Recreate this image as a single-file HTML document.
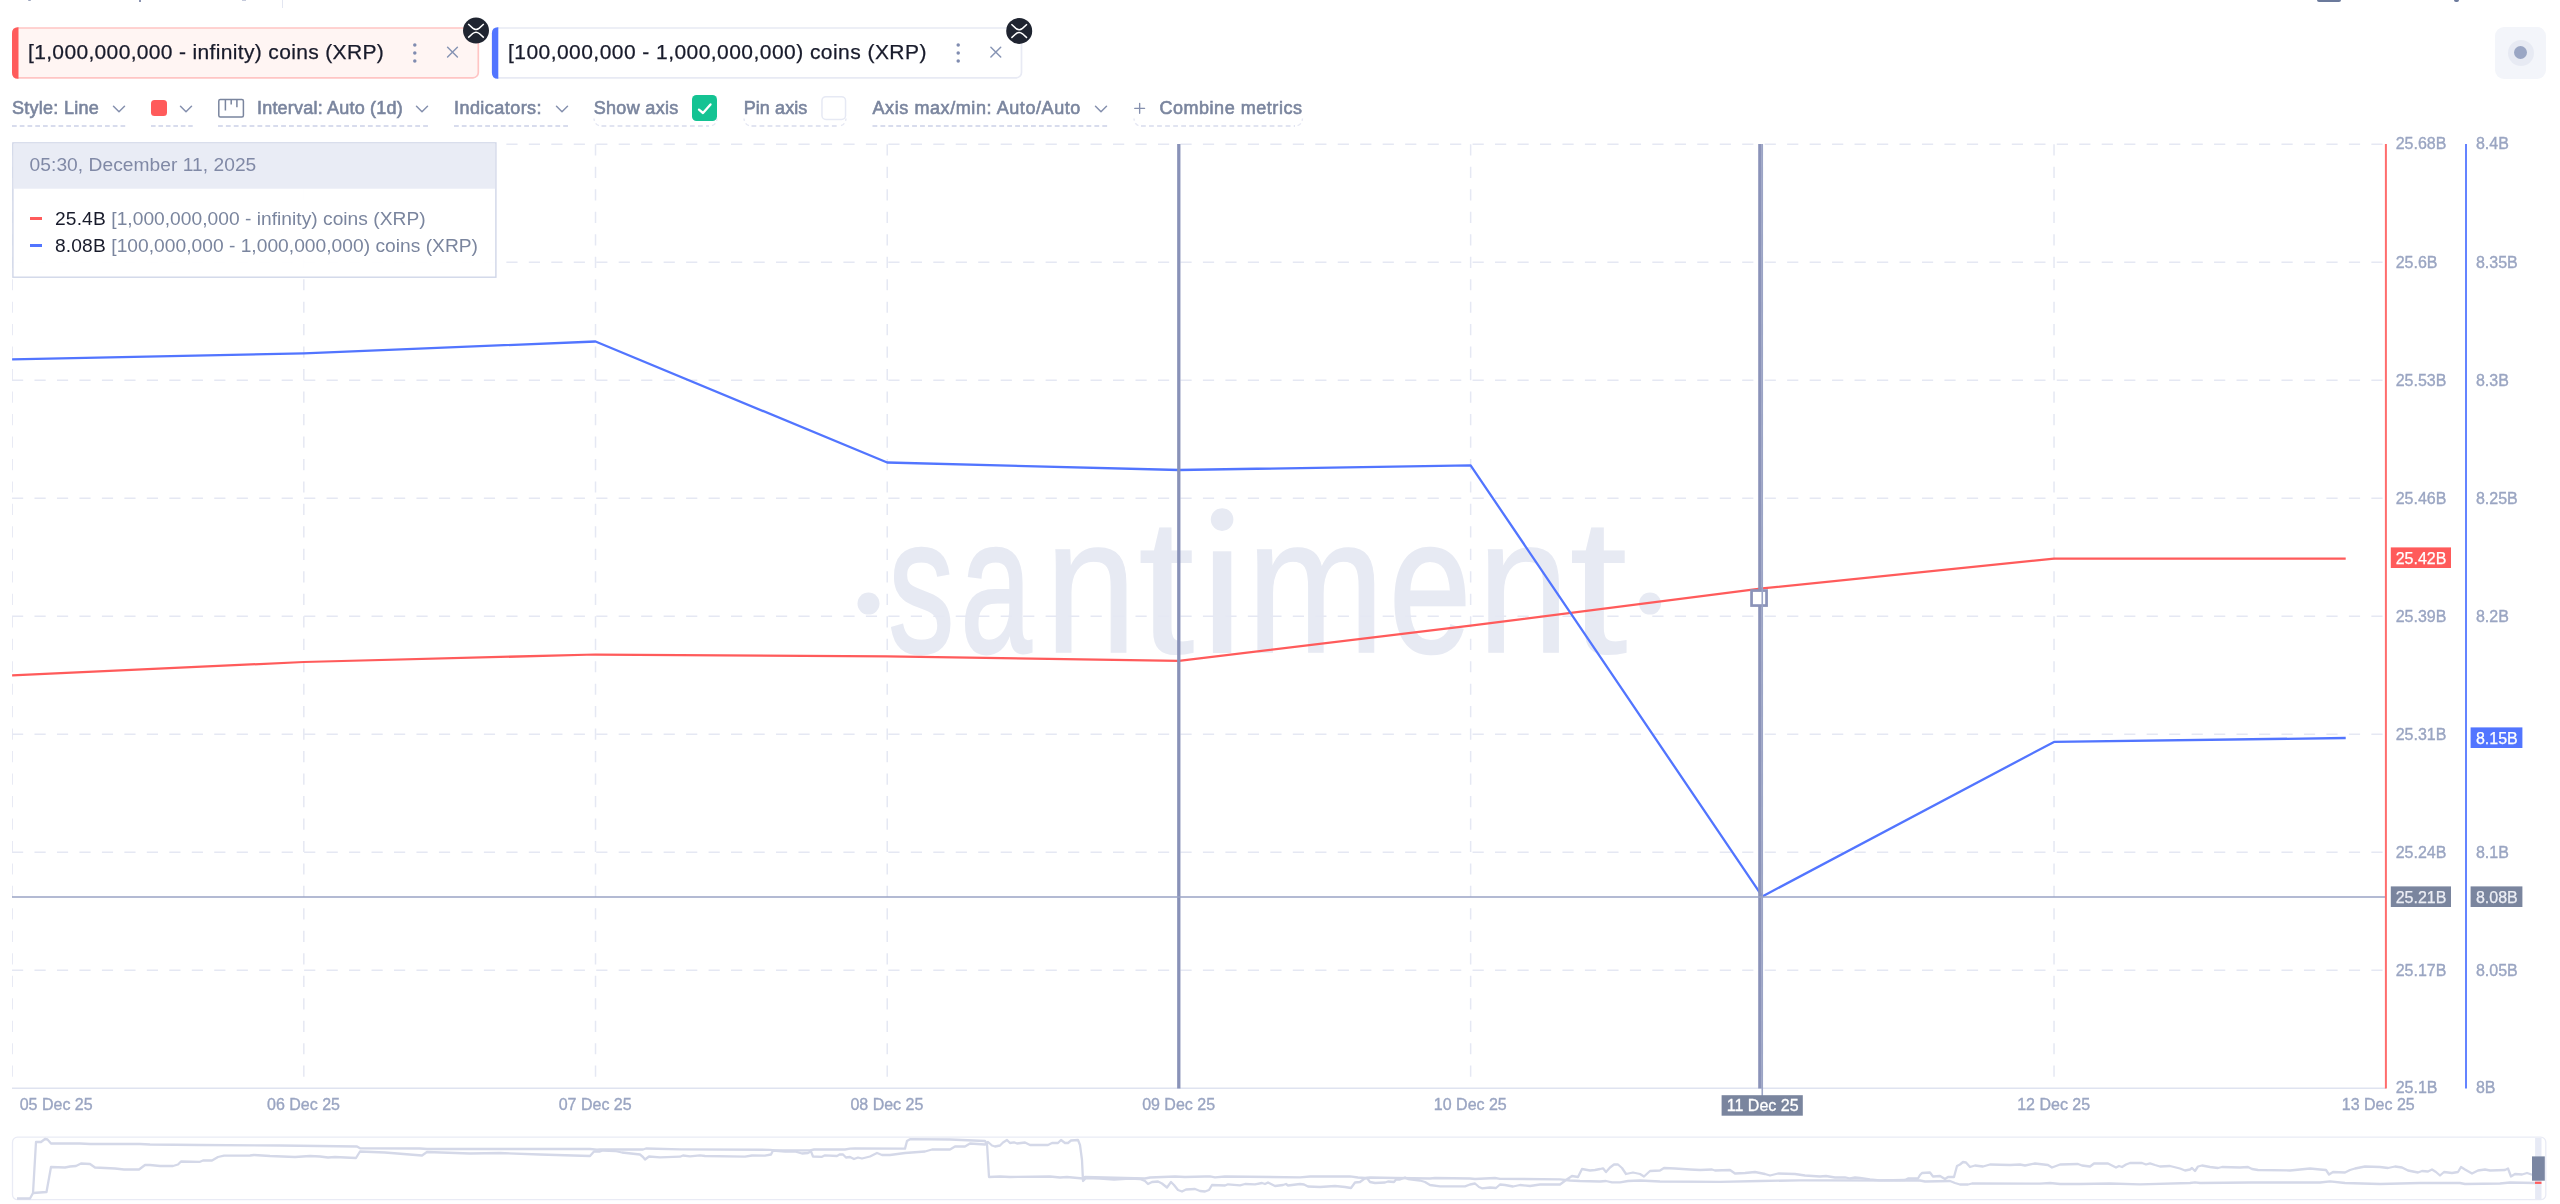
<!DOCTYPE html>
<html><head><meta charset="utf-8"><title>chart</title>
<style>
html,body{margin:0;padding:0;background:#fff;}
body{width:2560px;height:1204px;position:relative;overflow:hidden;will-change:transform;font-family:"Liberation Sans",sans-serif;}
.abs{position:absolute;}
.ct{position:absolute;top:25.9px;height:49.5px;line-height:51px;font-size:21px;color:#181b2b;white-space:pre;-webkit-text-stroke:0.25px #181b2b;}
.ctl{position:absolute;top:94px;height:28px;line-height:28px;font-size:18px;color:#7a859e;white-space:pre;-webkit-text-stroke:0.6px #7a859e;}
.tt{position:absolute;font-size:19.2px;white-space:pre;line-height:22px;height:22px;}
</style></head>
<body>
<!-- remnants of header row above -->
<div class="abs" style="left:27.5px;top:0;width:3.5px;height:1.2px;background:#9aa3bd;border-radius:0 0 2px 2px"></div>
<div class="abs" style="left:139.3px;top:0;width:1.8px;height:2.2px;background:#8a93b0"></div>
<div class="abs" style="left:242px;top:0;width:3.5px;height:0.8px;background:#c5cadb"></div>
<div class="abs" style="left:281.5px;top:0;width:1.5px;height:7.5px;background:#e3e6f1"></div>
<div class="abs" style="left:2316.5px;top:0;width:24.5px;height:1.6px;background:#6b7a9c;border-radius:0 0 2px 2px"></div>
<div class="abs" style="left:2454px;top:0;width:5px;height:2px;background:#6b7a9c;border-radius:0 0 2px 2px"></div>

<!-- chips -->
<svg class="abs" style="left:0;top:0" width="1100" height="90" viewBox="0 0 1100 90">
  <rect x="12.85" y="28" width="465.45" height="49.8" rx="5.3" fill="#fff5f3" stroke="#ffc5c4" stroke-width="1.7"/>
  <path d="M18.5 27.15 H18 Q12 27.15 12 33.15 V72.7 Q12 78.7 18 78.7 H18.5 Z" fill="#ff5b5b"/>
  <rect x="492.75" y="28" width="528.75" height="49.8" rx="5.3" fill="#fff" stroke="#e8eaf4" stroke-width="1.7"/>
  <path d="M498.3 27.15 H497.9 Q491.9 27.15 491.9 33.15 V72.7 Q491.9 78.7 497.9 78.7 H498.3 Z" fill="#5275ff"/>
</svg>
<span class="ct" style="left:28px;letter-spacing:0.34px">[1,000,000,000 - infinity) coins (XRP)</span>
<span class="ct" style="left:508px;letter-spacing:0.45px">[100,000,000 - 1,000,000,000) coins (XRP)</span>
<svg class="abs" style="left:0;top:0" width="1100" height="90" viewBox="0 0 1100 90">
  <g fill="#808cb0"><circle cx="414.8" cy="44.9" r="1.75"/><circle cx="414.8" cy="52.9" r="1.75"/><circle cx="414.8" cy="61" r="1.75"/>
  <circle cx="958.2" cy="44.9" r="1.75"/><circle cx="958.2" cy="52.9" r="1.75"/><circle cx="958.2" cy="61" r="1.75"/></g>
  <g stroke="#8794b4" stroke-width="1.5" stroke-linecap="round" fill="none">
   <path d="M447.6 47.3 L457.4 57 M457.4 47.3 L447.6 57"/>
   <path d="M990.9 47.3 L1000.7 57 M1000.7 47.3 L990.9 57"/>
  </g>
  <g>
   <circle cx="476" cy="30.6" r="13" fill="#1f2430"/>
   <path d="M468.2 24 L472.7 28.1 Q476 30.8 479.3 28.1 L483.8 24 M468.2 37.6 L472.7 33.5 Q476 30.8 479.3 33.5 L483.8 37.6" stroke="#fff" stroke-width="1.5" fill="none"/>
   <circle cx="1019.2" cy="30.9" r="13" fill="#1f2430"/>
   <path d="M1011.4 24.3 L1015.9 28.4 Q1019.2 31.1 1022.5 28.4 L1027 24.3 M1011.4 37.9 L1015.9 33.8 Q1019.2 31.1 1022.5 33.8 L1027 37.9" stroke="#fff" stroke-width="1.5" fill="none"/>
  </g>
</svg>

<!-- top-right button -->
<div class="abs" style="left:2495px;top:27px;width:51px;height:52px;border-radius:9px;background:#f3f5fa"></div>
<div class="abs" style="left:2507.6px;top:39.9px;width:26px;height:26px;border-radius:50%;background:#e7eaf3"></div>
<div class="abs" style="left:2514.1px;top:46.4px;width:13px;height:13px;border-radius:50%;background:#9aa6c4"></div>

<!-- controls -->
<span class="ctl" style="left:12px;letter-spacing:0.27px">Style: Line</span>
<span class="ctl" style="left:257px;letter-spacing:0.2px">Interval: Auto (1d)</span>
<span class="ctl" style="left:454px;letter-spacing:0.45px">Indicators:</span>
<span class="ctl" style="left:593.7px;letter-spacing:0.33px">Show axis</span>
<span class="ctl" style="left:743.7px;letter-spacing:0.09px">Pin axis</span>
<span class="ctl" style="left:872.5px;letter-spacing:0.58px">Axis max/min: Auto/Auto</span>
<span class="ctl" style="left:1159.4px;letter-spacing:0.54px">Combine metrics</span>
<svg class="abs" style="left:0;top:110px" width="1320" height="20" viewBox="0 110 1320 20">
 <g stroke="#d8dced" stroke-width="2.2" fill="none">
  <path d="M12 126 H125.2" stroke-dasharray="4.7 3.053"/><path d="M151 126 H192.7" stroke-dasharray="4.6 2.85"/><path d="M218 126 H428" stroke-dasharray="4.8 3.09"/><path d="M454 126 H568" stroke-dasharray="4.75 3.05"/><path d="M872.5 126 H1107.2" stroke-dasharray="4.8 3.125"/>
 </g>
 <g stroke="#d8dced" stroke-width="1.7" stroke-dasharray="4.8 3.24" fill="none">
  <path d="M601.5 126 H709"/><path d="M751.5 126 H838"/><path d="M1141 126 H1295"/>
 </g>
 <g stroke="#e6e8f3" stroke-width="1.4" fill="none" stroke-dasharray="4 3">
  <path d="M599 125.6 Q594.6 124.6 594 118.5"/><path d="M712 125.6 Q716.4 124.6 717 118.5"/>
  <path d="M749 125.6 Q744.6 124.6 744 118.5"/><path d="M841 125.6 Q845.4 124.6 846 118.5"/>
  <path d="M1138.5 125.6 Q1134.6 124.6 1134 118.5"/><path d="M1297.5 125.6 Q1301.9 124.6 1302.5 118.5"/>
 </g>
</svg>
<div class="abs" style="left:151px;top:100.2px;width:16px;height:16px;border-radius:3.5px;background:#ff5b5b"></div>
<div class="abs" style="left:691.8px;top:95.3px;width:25.7px;height:25.9px;border-radius:4.5px;background:#14c393"></div>
<svg class="abs" style="left:0;top:85px" width="1320" height="50" viewBox="0 85 1320 50">
 <g stroke="#8590ae" stroke-width="1.5" fill="none" stroke-linecap="round" stroke-linejoin="round">
  <path d="M113.5 106.2 L119 111.7 L124.5 106.2"/>
  <path d="M180.5 106.2 L186 111.7 L191.5 106.2"/>
  <path d="M416.5 106.2 L422 111.7 L427.5 106.2"/>
  <path d="M556.5 106.2 L562 111.7 L567.5 106.2"/>
  <path d="M1095.5 106.2 L1101 111.7 L1106.5 106.2"/>
  <path d="M1134.7 108.3 H1144.6 M1139.65 103.4 V113.3" stroke-width="1.35"/>
 </g>
 <g stroke="#7a859e" stroke-width="1.5" fill="none">
  <rect x="218.8" y="99.5" width="24.6" height="17.5" rx="1.5"/>
  <path d="M225.4 99.5 V110.4 M231.2 99.5 V104.4 M236.9 99.5 V107.2"/>
 </g>
 <rect x="821.95" y="96.65" width="23.6" height="22.8" rx="4" stroke="#e6e9f4" stroke-width="1.5" fill="#fff"/>
 <path d="M699 109.6 L703 113 L710.5 104.4" stroke="#fff" stroke-width="2.3" fill="none" stroke-linecap="round" stroke-linejoin="round"/>
</svg>
<svg id="chart" width="2560" height="1204" viewBox="0 0 2560 1204" style="position:absolute;left:0;top:0" font-family="Liberation Sans, sans-serif">
<g fill="#e7eaf3" stroke="#e7eaf3" stroke-width="0"><circle cx="868.5" cy="603.6" r="11"/><circle cx="1650" cy="603.6" r="11"/><circle cx="1222.1" cy="519.6" r="11.3"/><rect x="1212.9" y="551.3" width="18.4" height="101.7"/>
<text font-size="204" transform="translate(888.4,652.3) scale(0.644,0.945)" stroke-width="2.4" vector-effect="non-scaling-stroke">s</text>
<text font-size="204" transform="translate(960.5,652.3) scale(0.626,0.945)" stroke-width="2.4" vector-effect="non-scaling-stroke">a</text>
<text font-size="204" transform="translate(1045.1,652.3) scale(0.807,0.945)" stroke-width="1.2" vector-effect="non-scaling-stroke">n</text>
<text font-size="204" transform="translate(1137.6,653.3) scale(1.015,0.955)" stroke-width="0" vector-effect="non-scaling-stroke">t</text>
<text font-size="204" transform="translate(1246.6,652.3) scale(0.813,0.945)" stroke-width="1.2" vector-effect="non-scaling-stroke">m</text>
<text font-size="204" transform="translate(1389.2,652.3) scale(0.720,0.945)" stroke-width="2.4" vector-effect="non-scaling-stroke">e</text>
<text font-size="204" transform="translate(1477.5,652.3) scale(0.807,0.945)" stroke-width="1.2" vector-effect="non-scaling-stroke">n</text>
<text font-size="204" transform="translate(1568.7,653.3) scale(1.047,0.955)" stroke-width="0" vector-effect="non-scaling-stroke">t</text>
</g>
<clipPath id="plot"><rect x="12" y="140" width="2380" height="960"/></clipPath><g clip-path="url(#plot)">
<line x1="12" x2="2385" y1="144.35" y2="144.35" stroke="#e5e8f3" stroke-width="1.5" stroke-dasharray="11.2 11.27"/>
<line x1="12" x2="2385" y1="262.35" y2="262.35" stroke="#e5e8f3" stroke-width="1.5" stroke-dasharray="11.2 11.27"/>
<line x1="12" x2="2385" y1="380.35" y2="380.35" stroke="#e5e8f3" stroke-width="1.5" stroke-dasharray="11.2 11.27"/>
<line x1="12" x2="2385" y1="498.35" y2="498.35" stroke="#e5e8f3" stroke-width="1.5" stroke-dasharray="11.2 11.27"/>
<line x1="12" x2="2385" y1="616.35" y2="616.35" stroke="#e5e8f3" stroke-width="1.5" stroke-dasharray="11.2 11.27"/>
<line x1="12" x2="2385" y1="734.35" y2="734.35" stroke="#e5e8f3" stroke-width="1.5" stroke-dasharray="11.2 11.27"/>
<line x1="12" x2="2385" y1="852.35" y2="852.35" stroke="#e5e8f3" stroke-width="1.5" stroke-dasharray="11.2 11.27"/>
<line x1="12" x2="2385" y1="970.35" y2="970.35" stroke="#e5e8f3" stroke-width="1.5" stroke-dasharray="11.2 11.27"/>
<line x1="12.13" x2="12.13" y1="144.35" y2="1088" stroke="#e5e8f3" stroke-width="1.5" stroke-dasharray="11.2 11.27"/>
<line x1="303.83" x2="303.83" y1="144.35" y2="1088" stroke="#e5e8f3" stroke-width="1.5" stroke-dasharray="11.2 11.27"/>
<line x1="595.53" x2="595.53" y1="144.35" y2="1088" stroke="#e5e8f3" stroke-width="1.5" stroke-dasharray="11.2 11.27"/>
<line x1="887.23" x2="887.23" y1="144.35" y2="1088" stroke="#e5e8f3" stroke-width="1.5" stroke-dasharray="11.2 11.27"/>
<line x1="1178.93" x2="1178.93" y1="144.35" y2="1088" stroke="#e5e8f3" stroke-width="1.5" stroke-dasharray="11.2 11.27"/>
<line x1="1470.63" x2="1470.63" y1="144.35" y2="1088" stroke="#e5e8f3" stroke-width="1.5" stroke-dasharray="11.2 11.27"/>
<line x1="1762.33" x2="1762.33" y1="144.35" y2="1088" stroke="#e5e8f3" stroke-width="1.5" stroke-dasharray="11.2 11.27"/>
<line x1="2054.03" x2="2054.03" y1="144.35" y2="1088" stroke="#e5e8f3" stroke-width="1.5" stroke-dasharray="11.2 11.27"/>
</g>
<line x1="12" x2="2386" y1="1088.3" y2="1088.3" stroke="#dfe3f0" stroke-width="1.5"/>
<polyline points="12.1,675.3 303.8,662.0 595.5,654.5 887.2,656.4 1178.9,660.8 1470.6,625.7 1762.3,588.4 2054.0,558.7 2345.7,558.7" fill="none" stroke="#ff5b5b" stroke-width="2.25" stroke-linejoin="round"/>
<polyline points="12.1,359.3 303.8,353.3 595.5,341.5 887.2,462.5 1178.9,470.0 1470.6,465.3 1762.3,896.4 2054.0,741.9 2345.7,738.0" fill="none" stroke="#5275ff" stroke-width="2.3" stroke-linejoin="round"/>
<line x1="2385.9" x2="2385.9" y1="144" y2="1088.5" stroke="#ff6d6d" stroke-width="2"/>
<line x1="2466" x2="2466" y1="144" y2="1088.5" stroke="#6483ff" stroke-width="2"/>
<line x1="1178.8" x2="1178.8" y1="144" y2="1088.6" stroke="#8992b8" stroke-width="3.3"/>
<line x1="1759.95" x2="1759.95" y1="144" y2="1088.6" stroke="#8b93b9" stroke-width="3.5"/>
<line x1="12" x2="2385" y1="896.9" y2="896.9" stroke="#9aa3c4" stroke-width="1.5"/>
<rect x="1751.55" y="590.55" width="15" height="15" fill="#fff" stroke="#8b93b9" stroke-width="2.7"/>
<line x1="1762.25" x2="1762.25" y1="144" y2="1096" stroke="#9ba4c5" stroke-width="1.6"/>
<text x="2395.7" y="149.4" font-size="16" fill="#9aa5c2" stroke="#9aa5c2" stroke-width="0.35">25.68B</text>
<text x="2475.9" y="149.4" font-size="16" fill="#9aa5c2" stroke="#9aa5c2" stroke-width="0.35">8.4B</text>
<text x="2395.7" y="267.5" font-size="16" fill="#9aa5c2" stroke="#9aa5c2" stroke-width="0.35">25.6B</text>
<text x="2475.9" y="267.5" font-size="16" fill="#9aa5c2" stroke="#9aa5c2" stroke-width="0.35">8.35B</text>
<text x="2395.7" y="385.5" font-size="16" fill="#9aa5c2" stroke="#9aa5c2" stroke-width="0.35">25.53B</text>
<text x="2475.9" y="385.5" font-size="16" fill="#9aa5c2" stroke="#9aa5c2" stroke-width="0.35">8.3B</text>
<text x="2395.7" y="503.5" font-size="16" fill="#9aa5c2" stroke="#9aa5c2" stroke-width="0.35">25.46B</text>
<text x="2475.9" y="503.5" font-size="16" fill="#9aa5c2" stroke="#9aa5c2" stroke-width="0.35">8.25B</text>
<text x="2395.7" y="621.5" font-size="16" fill="#9aa5c2" stroke="#9aa5c2" stroke-width="0.35">25.39B</text>
<text x="2475.9" y="621.5" font-size="16" fill="#9aa5c2" stroke="#9aa5c2" stroke-width="0.35">8.2B</text>
<text x="2395.7" y="739.5" font-size="16" fill="#9aa5c2" stroke="#9aa5c2" stroke-width="0.35">25.31B</text>
<text x="2395.7" y="857.5" font-size="16" fill="#9aa5c2" stroke="#9aa5c2" stroke-width="0.35">25.24B</text>
<text x="2475.9" y="857.5" font-size="16" fill="#9aa5c2" stroke="#9aa5c2" stroke-width="0.35">8.1B</text>
<text x="2395.7" y="975.5" font-size="16" fill="#9aa5c2" stroke="#9aa5c2" stroke-width="0.35">25.17B</text>
<text x="2475.9" y="975.5" font-size="16" fill="#9aa5c2" stroke="#9aa5c2" stroke-width="0.35">8.05B</text>
<text x="2395.7" y="1093.4" font-size="16" fill="#9aa5c2" stroke="#9aa5c2" stroke-width="0.35">25.1B</text>
<text x="2475.9" y="1093.4" font-size="16" fill="#9aa5c2" stroke="#9aa5c2" stroke-width="0.35">8B</text>
<rect x="2390.8" y="547.4" width="60.2" height="20.6" fill="#ff5b5b"/><text x="2395.7" y="563.5" font-size="16" fill="#fff" stroke="#fff" stroke-width="0.25">25.42B</text>
<rect x="2470.6" y="727.4" width="51.8" height="20.6" fill="#5275ff"/><text x="2475.9" y="743.5" font-size="16" fill="#fff" stroke="#fff" stroke-width="0.25">8.15B</text>
<rect x="2390.8" y="886.4" width="60.2" height="20.6" fill="#7a859e"/><text x="2395.7" y="902.5" font-size="16" fill="#eceef5" stroke="#eceef5" stroke-width="0.25">25.21B</text>
<rect x="2470.6" y="886.4" width="51.8" height="20.6" fill="#7a859e"/><text x="2475.9" y="902.5" font-size="16" fill="#eceef5" stroke="#eceef5" stroke-width="0.25">8.08B</text>
<text x="19.7" y="1109.5" font-size="16" fill="#9aa5c2" stroke="#9aa5c2" stroke-width="0.35">05 Dec 25</text>
<text x="303.5" y="1109.5" font-size="16" fill="#9aa5c2" stroke="#9aa5c2" stroke-width="0.35" text-anchor="middle">06 Dec 25</text>
<text x="595.2" y="1109.5" font-size="16" fill="#9aa5c2" stroke="#9aa5c2" stroke-width="0.35" text-anchor="middle">07 Dec 25</text>
<text x="886.9" y="1109.5" font-size="16" fill="#9aa5c2" stroke="#9aa5c2" stroke-width="0.35" text-anchor="middle">08 Dec 25</text>
<text x="1178.6" y="1109.5" font-size="16" fill="#9aa5c2" stroke="#9aa5c2" stroke-width="0.35" text-anchor="middle">09 Dec 25</text>
<text x="1470.3" y="1109.5" font-size="16" fill="#9aa5c2" stroke="#9aa5c2" stroke-width="0.35" text-anchor="middle">10 Dec 25</text>
<rect x="1721.6" y="1095.2" width="81.2" height="20.5" fill="#7a859e"/><text x="1762.7" y="1111" font-size="16" fill="#fff" stroke="#fff" stroke-width="0.3" text-anchor="middle">11 Dec 25</text>
<text x="2053.7" y="1109.5" font-size="16" fill="#9aa5c2" stroke="#9aa5c2" stroke-width="0.35" text-anchor="middle">12 Dec 25</text>
<text x="2341.8" y="1109.5" font-size="16" fill="#9aa5c2" stroke="#9aa5c2" stroke-width="0.35">13 Dec 25</text>
<rect x="12.5" y="1137.2" width="2533.3" height="62.5" rx="5" fill="#fff" stroke="#e9ebf5" stroke-width="1.3"/>
<rect x="2535.1" y="1138" width="6.4" height="61" fill="#e7eaf5"/>
<polyline points="17.0,1198.5 30.0,1198.5 33.0,1193.0 36.0,1142.0 41.0,1142.0 45.0,1139.0 47.5,1139.5 51.0,1143.5 80.0,1143.5 90.0,1144.0 140.0,1144.0 150.0,1144.5 200.0,1145.0 280.0,1145.5 357.0,1146.5 360.0,1148.3 420.0,1148.5 427.0,1149.0 590.0,1149.0 597.0,1149.6 600.0,1149.5 643.0,1149.5 646.0,1148.5 680.0,1149.3 770.0,1149.8 775.0,1150.3 810.0,1150.3 814.0,1149.5 845.0,1149.5 850.0,1148.7 855.0,1148.3 905.0,1148.6 907.0,1141.0 910.0,1139.2 950.0,1139.5 985.0,1141.0 987.0,1144.0 989.0,1177.0 1000.0,1176.5 1010.0,1177.0 1050.0,1176.5 1060.0,1177.5 1067.0,1177.0 1083.0,1178.5 1085.0,1177.0 1145.0,1178.5 1150.0,1177.5 1175.0,1176.5 1185.0,1177.0 1205.0,1176.5 1210.0,1176.3 1215.0,1177.3 1225.0,1176.5 1300.0,1177.3 1310.0,1176.5 1350.0,1176.3 1358.0,1177.5 1365.0,1178.0 1370.0,1177.5 1395.0,1178.0 1430.0,1178.5 1435.0,1178.0 1470.0,1178.5 1475.0,1179.0 1495.0,1178.0 1500.0,1178.8 1560.0,1179.3 1570.0,1180.5 1580.0,1181.0 1600.0,1181.5 1606.0,1181.0 1612.0,1182.3 1620.0,1182.3 1628.0,1181.0 1640.0,1180.5 1660.0,1181.5 1720.0,1181.8 1760.0,1181.0 1800.0,1180.4 1920.0,1180.5 1925.0,1181.5 1950.0,1181.0 1955.0,1183.0 1960.0,1184.5 1968.0,1184.5 1972.0,1183.5 2040.0,1183.7 2050.0,1183.0 2060.0,1184.0 2080.0,1184.0 2110.0,1183.5 2140.0,1184.3 2190.0,1183.0 2195.0,1182.3 2200.0,1183.0 2250.0,1182.5 2320.0,1182.5 2330.0,1181.3 2345.0,1183.0 2380.0,1184.0 2420.0,1183.0 2460.0,1183.0 2465.0,1184.0 2500.0,1183.5 2510.0,1182.5 2535.0,1183.0" fill="none" stroke="#d4d8e8" stroke-width="2.3" stroke-linejoin="round"/>
<polyline points="33.0,1193.0 46.5,1192.0 51.0,1167.0 65.0,1167.5 70.0,1166.5 76.0,1166.0 81.0,1163.5 90.0,1164.0 95.0,1167.5 115.0,1168.5 124.0,1169.5 139.0,1169.5 145.0,1165.0 150.0,1165.0 160.0,1166.0 173.0,1166.0 178.0,1164.5 181.0,1161.5 200.0,1161.8 203.0,1160.5 212.0,1160.5 218.0,1157.0 224.0,1155.7 250.0,1155.5 254.0,1155.0 270.0,1156.0 295.0,1157.0 310.0,1156.0 320.0,1156.5 328.0,1157.5 335.0,1157.0 356.0,1158.0 360.0,1151.5 385.0,1152.5 422.0,1155.5 427.0,1152.0 470.0,1153.5 500.0,1153.0 540.0,1154.5 590.0,1156.0 594.0,1151.5 600.0,1151.5 603.0,1150.5 615.0,1151.0 622.0,1152.5 640.0,1154.5 643.0,1157.0 645.0,1159.5 649.0,1156.5 660.0,1157.3 680.0,1156.7 683.0,1155.5 690.0,1156.3 700.0,1155.3 705.0,1156.0 745.0,1156.7 752.0,1155.5 765.0,1155.7 771.0,1154.5 773.0,1150.5 785.0,1151.5 795.0,1151.3 802.0,1153.5 808.0,1153.0 811.0,1151.3 813.0,1156.5 822.0,1156.8 825.0,1155.3 837.0,1156.0 840.0,1154.3 843.0,1154.5 846.0,1157.5 850.0,1157.0 854.0,1159.0 858.0,1157.5 862.0,1158.5 866.0,1157.5 870.0,1156.5 877.0,1153.0 882.0,1155.0 890.0,1155.0 905.0,1153.0 925.0,1151.5 932.0,1149.5 950.0,1149.5 955.0,1146.5 965.0,1146.5 970.0,1143.5 985.0,1144.5 988.0,1142.0 992.0,1145.5 995.0,1146.5 1000.0,1145.5 1003.0,1142.5 1007.0,1140.0 1010.0,1143.0 1014.0,1142.3 1017.0,1143.5 1025.0,1142.5 1030.0,1145.0 1048.0,1145.0 1052.0,1143.0 1058.0,1143.0 1061.0,1140.0 1065.0,1143.0 1068.0,1143.0 1071.0,1140.5 1078.0,1140.0 1080.0,1145.0 1082.0,1160.0 1083.0,1181.0 1086.0,1178.0 1100.0,1178.5 1114.0,1179.5 1130.0,1178.5 1140.0,1179.0 1145.0,1181.0 1148.0,1184.0 1152.0,1182.0 1158.0,1181.5 1162.0,1183.5 1167.0,1187.5 1171.0,1182.0 1174.0,1185.0 1178.0,1190.0 1182.0,1191.5 1186.0,1189.5 1195.0,1189.0 1200.0,1191.0 1205.0,1191.5 1209.0,1190.0 1212.0,1185.0 1225.0,1185.5 1228.0,1184.3 1240.0,1185.3 1245.0,1184.0 1255.0,1184.3 1262.0,1183.0 1265.0,1184.0 1268.0,1182.5 1272.0,1184.5 1275.0,1186.0 1283.0,1185.0 1286.0,1184.0 1288.0,1185.5 1300.0,1184.0 1304.0,1184.5 1308.0,1186.5 1320.0,1187.0 1335.0,1186.0 1345.0,1187.0 1351.0,1188.0 1355.0,1182.5 1360.0,1182.0 1364.0,1179.0 1367.0,1178.0 1370.0,1182.0 1375.0,1183.0 1385.0,1182.5 1388.0,1181.5 1394.0,1182.0 1396.0,1179.5 1400.0,1179.5 1405.0,1177.5 1408.0,1179.0 1420.0,1180.5 1425.0,1182.0 1430.0,1185.0 1440.0,1186.3 1465.0,1186.3 1470.0,1184.5 1475.0,1183.5 1479.0,1187.0 1482.0,1188.3 1490.0,1187.5 1496.0,1188.0 1500.0,1184.5 1505.0,1185.0 1513.0,1186.5 1520.0,1185.0 1530.0,1186.0 1540.0,1184.5 1550.0,1184.5 1560.0,1184.5 1566.0,1180.0 1572.0,1176.0 1578.0,1177.0 1582.0,1169.0 1590.0,1170.5 1595.0,1170.0 1600.0,1169.0 1603.0,1168.3 1606.0,1172.0 1610.0,1167.5 1614.0,1164.5 1618.0,1164.5 1622.0,1168.0 1626.0,1174.0 1633.0,1172.5 1640.0,1174.0 1644.0,1176.5 1650.0,1171.0 1660.0,1170.5 1664.0,1168.0 1675.0,1168.5 1690.0,1169.5 1700.0,1170.0 1712.0,1169.5 1715.0,1170.5 1730.0,1170.0 1735.0,1173.5 1745.0,1173.0 1755.0,1172.0 1765.0,1174.0 1770.0,1175.5 1778.0,1173.5 1795.0,1174.0 1805.0,1175.5 1820.0,1176.5 1826.0,1176.0 1835.0,1177.5 1845.0,1177.3 1850.0,1178.5 1855.0,1177.5 1860.0,1177.8 1870.0,1179.5 1880.0,1180.3 1905.0,1180.0 1908.0,1178.5 1918.0,1178.5 1920.0,1175.0 1922.0,1173.0 1930.0,1172.5 1933.0,1176.5 1940.0,1176.0 1945.0,1179.0 1948.0,1177.0 1954.0,1177.0 1957.0,1166.0 1960.0,1164.5 1963.0,1162.0 1966.0,1162.5 1970.0,1167.0 1975.0,1165.5 1983.0,1166.5 1990.0,1164.5 2010.0,1165.0 2020.0,1164.5 2025.0,1165.5 2035.0,1163.5 2048.0,1165.0 2052.0,1167.5 2060.0,1164.5 2078.0,1164.0 2082.0,1165.5 2090.0,1166.5 2094.0,1163.5 2108.0,1163.5 2112.0,1165.5 2116.0,1167.5 2119.0,1166.0 2122.0,1167.0 2126.0,1164.5 2130.0,1163.0 2142.0,1163.0 2146.0,1164.5 2150.0,1163.3 2155.0,1165.0 2160.0,1166.5 2170.0,1166.0 2180.0,1168.5 2185.0,1170.5 2190.0,1169.5 2192.0,1168.0 2195.0,1171.0 2198.0,1166.5 2202.0,1165.5 2210.0,1167.0 2218.0,1168.0 2222.0,1167.0 2240.0,1167.5 2248.0,1167.0 2252.0,1169.0 2258.0,1170.0 2290.0,1170.5 2300.0,1169.5 2310.0,1168.5 2320.0,1169.5 2326.0,1170.0 2329.0,1174.5 2333.0,1172.0 2345.0,1172.5 2350.0,1170.0 2355.0,1168.5 2365.0,1166.5 2380.0,1167.0 2388.0,1168.0 2395.0,1166.5 2402.0,1167.5 2408.0,1170.5 2418.0,1172.5 2422.0,1171.0 2428.0,1171.5 2432.0,1169.5 2436.0,1172.0 2440.0,1175.5 2444.0,1172.0 2452.0,1173.0 2458.0,1172.0 2461.0,1167.0 2465.0,1169.5 2472.0,1173.5 2478.0,1170.5 2485.0,1169.5 2490.0,1170.5 2505.0,1170.0 2508.0,1168.5 2511.0,1176.5 2515.0,1174.0 2522.0,1174.5 2527.0,1173.0 2533.0,1175.0" fill="none" stroke="#d4d8e8" stroke-width="2.3" stroke-linejoin="round"/>
<rect x="2532" y="1156.4" width="12.8" height="24.3" fill="#7a86a2"/>
<rect x="2535" y="1181.7" width="6.5" height="2.2" fill="#ff5b5b"/>
</svg><!-- tooltip -->
<svg class="abs" style="left:0;top:130px" width="520" height="160" viewBox="0 130 520 160">
 <rect x="12.9" y="142.9" width="483" height="134.3" fill="#fff" fill-opacity="0.94" stroke="#d0d6e8" stroke-width="1.4"/>
 <rect x="13.6" y="143.6" width="481.6" height="45.1" fill="#e9ecf5"/>
</svg>
<span class="tt" style="left:29.6px;top:154.4px;color:#8089a6;letter-spacing:0.04px">05:30, December 11, 2025</span>
<div class="abs" style="left:29.8px;top:216.8px;width:12.7px;height:3px;background:#ff5b5b"></div>
<div class="abs" style="left:29.8px;top:243.8px;width:12.7px;height:3px;background:#5275ff"></div>
<span class="tt" style="left:55px;top:207.9px;color:#181b2b;letter-spacing:0.15px">25.4B</span>
<span class="tt" style="left:111.3px;top:207.9px;color:#7a859e;letter-spacing:0.02px">[1,000,000,000 - infinity) coins (XRP)</span>
<span class="tt" style="left:55px;top:234.8px;color:#181b2b;letter-spacing:0.15px">8.08B</span>
<span class="tt" style="left:111.3px;top:234.8px;color:#7a859e;letter-spacing:0.02px">[100,000,000 - 1,000,000,000) coins (XRP)</span>
</body></html>
